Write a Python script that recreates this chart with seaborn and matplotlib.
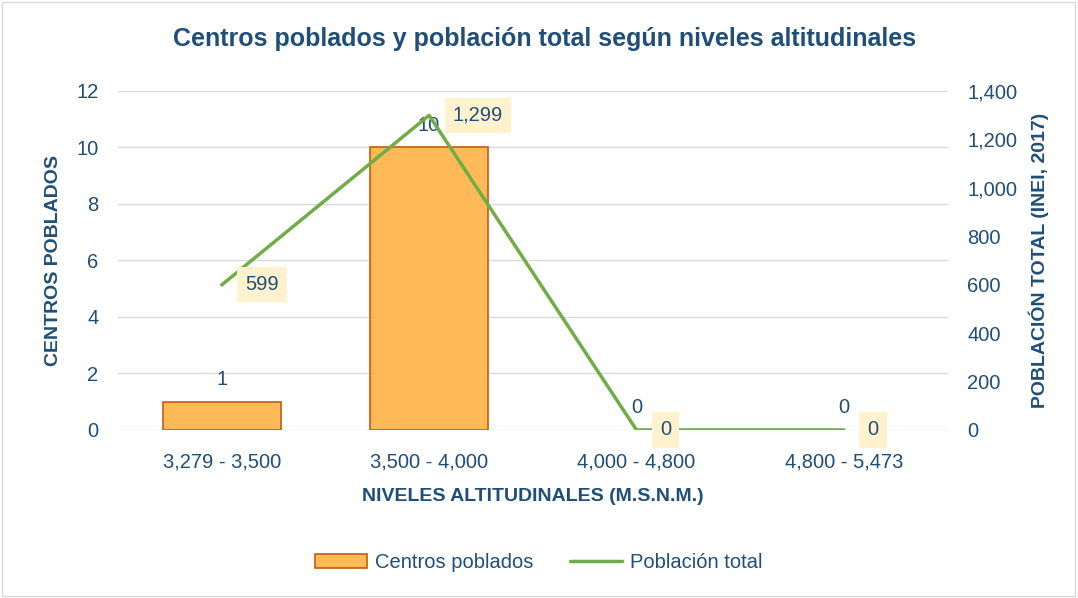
import matplotlib.pyplot as plt
import matplotlib.patches as mpatches
import matplotlib.lines as mlines
import pandas as pd
import seaborn as sns

niveles = ["3,279 - 3,500", "3,500 - 4,000", "4,000 - 4,800", "4,800 - 5,473"]
centros = [1, 10, 0, 0]
poblacion = [599, 1299, 0, 0]

df = pd.DataFrame({"nivel": niveles, "centros": centros, "poblacion": poblacion})

TXT = "#1F4E79"
BAR = "#FFBA57"
EDGE = "#C55A11"
LINE = "#70AD47"

sns.set_theme(style="white")
plt.rcParams["font.family"] = ["Liberation Sans", "DejaVu Sans"]

fig = plt.figure(figsize=(10.78, 5.98), dpi=100)
ax = fig.add_axes([0.1095, 0.281, 0.7695, 0.567])

sns.barplot(data=df, x="nivel", y="centros", color=BAR, edgecolor=EDGE,
            linewidth=1.2, width=0.57, saturation=1, ax=ax)
# empty bars: no outline on the baseline
for p, v in zip(ax.patches, centros):
    if v == 0:
        p.set_linewidth(0)
ax.set_xlim(-0.5, 3.5)
ax.set_ylim(0, 12)
ax.set_yticks(range(0, 13, 2))
ax.yaxis.grid(True, color="#D9D9D9", linewidth=1)
ax.set_axisbelow(True)
for s in ax.spines.values():
    s.set_visible(False)
ax.tick_params(axis="x", colors=TXT, labelsize=14.5, length=0, pad=16)
ax.tick_params(axis="y", colors=TXT, labelsize=14.5, length=0, pad=14)
ax.set_xlabel("NIVELES ALTITUDINALES (M.S.N.M.)", color=TXT, fontsize=14,
              fontweight="bold", labelpad=12)
ax.set_ylabel("CENTROS POBLADOS", color=TXT, fontsize=14, fontweight="bold", labelpad=10)

for i, v in enumerate(centros):
    ax.text(i, v + 0.45, f"{v}", ha="center", va="bottom", color=TXT, fontsize=14.5)

ax2 = ax.twinx()
sns.lineplot(data=df, x="nivel", y="poblacion", color=LINE, linewidth=2.5,
             sort=False, ax=ax2)
ax2.set_ylim(0, 1400)
ax2.set_yticks(range(0, 1401, 200))
ax2.set_yticklabels([f"{v:,}" for v in range(0, 1401, 200)])
for s in ax2.spines.values():
    s.set_visible(False)
ax2.tick_params(axis="y", colors=TXT, labelsize=14.5, length=0, pad=14)
ax2.set_ylabel("POBLACIÓN TOTAL (INEI, 2017)", color=TXT, fontsize=14,
               fontweight="bold", labelpad=8)
ax2.set_xlabel("")

for i, v in enumerate(poblacion):
    ax2.annotate(f"{v:,}", xy=(i, v), xytext=(17, 0), textcoords="offset points",
                 ha="left", va="center", color=TXT, fontsize=14.5,
                 bbox=dict(boxstyle="square,pad=0.4", fc="#FFF2CC", ec="none"))

fig.suptitle("Centros poblados y población total según niveles altitudinales",
             x=0.505, y=0.955, color=TXT, fontsize=18, fontweight="bold")

handles = [mpatches.Patch(facecolor=BAR, edgecolor=EDGE, linewidth=1.2, label="Centros poblados"),
           mlines.Line2D([], [], color=LINE, linewidth=2.5, label="Población total")]
leg = fig.legend(handles=handles, loc="center", bbox_to_anchor=(0.5, 0.06), ncol=2,
                 frameon=False, fontsize=14.5, handlelength=2.6, columnspacing=1.8,
                 handletextpad=0.4)
for t in leg.get_texts():
    t.set_color(TXT)

fig.patches.append(mpatches.Rectangle((0.002, 0.003), 0.995, 0.994, transform=fig.transFigure,
                                      fill=False, edgecolor="#D9D9D9", linewidth=1))

fig.savefig("out.png", dpi=100)
